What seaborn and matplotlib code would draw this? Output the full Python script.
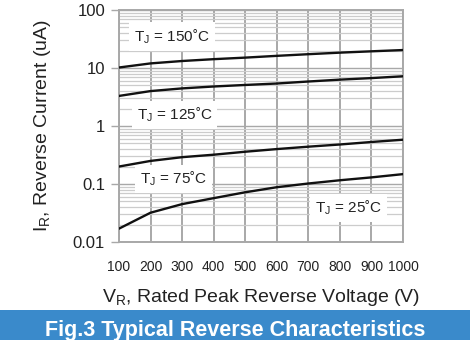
import numpy as np
import pandas as pd
import matplotlib
matplotlib.use("Agg")
import matplotlib.pyplot as plt
import seaborn as sns
from matplotlib.patches import Rectangle
from matplotlib.ticker import FixedLocator, LogLocator, NullFormatter

# ---- data ----
voltage = [100, 200, 300, 400, 500, 600, 700, 800, 900, 1000]
ir_150 = [10.2, 12.0, 13.2, 14.2, 15.1, 16.2, 17.3, 18.4, 19.4, 20.4]
ir_125 = [3.3, 4.0, 4.45, 4.8, 5.1, 5.4, 5.85, 6.3, 6.7, 7.2]
ir_75 = [0.2, 0.25, 0.29, 0.32, 0.36, 0.40, 0.44, 0.48, 0.53, 0.58]
ir_25 = [0.017, 0.032, 0.045, 0.057, 0.072, 0.088, 0.102, 0.116, 0.13, 0.148]
temps = ["150", "125", "75", "25"]
y_ticks = [0.01, 0.1, 1, 10, 100]
y_ticklabels = ["0.01", "0.1", "1", "10", "100"]
x_ticks = voltage

df = pd.concat([
    pd.DataFrame({"V": voltage, "I": vals, "T": t})
    for t, vals in zip(temps, [ir_150, ir_125, ir_75, ir_25])
])

sns.set_theme(style="white")
plt.rcParams["font.family"] = ["Liberation Sans", "DejaVu Sans"]
plt.rcParams["mathtext.fontset"] = "custom"
plt.rcParams["mathtext.rm"] = "Liberation Sans"
plt.rcParams["mathtext.it"] = "Liberation Sans:italic"

fig = plt.figure(figsize=(4.7, 3.4), dpi=100)
ax = fig.add_axes([119/470, 1-242/340, (403-119)/470, (242-10)/340])

grid_c = "#a8a8a8"
minor_c = "#cccccc"

sns.lineplot(data=df, x="V", y="I", hue="T", palette=["#111111"]*4,
             legend=False, ax=ax, linewidth=1.7, zorder=3)
ax.set_yscale("log")
ax.set_xlim(100, 1000)
ax.set_ylim(0.01, 100)

ax.yaxis.set_major_locator(FixedLocator(y_ticks))
ax.set_yticklabels(y_ticklabels)
ax.yaxis.set_minor_locator(LogLocator(base=10, subs=np.arange(2, 10)))
ax.yaxis.set_minor_formatter(NullFormatter())
ax.set_xticks(x_ticks)
ax.set_xticklabels([str(v) for v in x_ticks])

ax.grid(True, which="major", axis="x", color=grid_c, linewidth=1.4, zorder=0)
ax.grid(True, which="major", axis="y", color=grid_c, linewidth=1.0, zorder=0)
ax.grid(True, which="minor", axis="y", color=minor_c, linewidth=0.9, zorder=0)
ax.set_axisbelow(True)

for s in ax.spines.values():
    s.set_color(grid_c)
    s.set_linewidth(1.4)

ax.tick_params(axis="y", which="major", left=True, length=6, width=1.0,
               color=grid_c, labelsize=12, pad=4, labelcolor="#222222")
ax.tick_params(axis="y", which="minor", left=False)
ax.tick_params(axis="x", which="major", bottom=False, labelsize=10, pad=7,
               labelcolor="#222222")

ax.set_xlabel(r"V$_\mathregular{R}$, Rated Peak Reverse Voltage (V)",
              fontsize=14, labelpad=9, color="#222222")
ax.set_ylabel(r"I$_\mathregular{R}$, Reverse Current (uA)",
              fontsize=14, labelpad=14, color="#222222")

box = dict(facecolor="white", edgecolor="none", pad=3.5)
labels = [("150", 268, 35), ("125", 277, 1.55), ("75", 272, 0.122), ("25", 828, 0.0386)]
for t, xv, yv in labels:
    ax.text(xv, yv, r"T$_\mathregular{J}$ = " + t + "\u02daC", fontsize=11,
            ha="center", va="center", bbox=box, zorder=4, color="#222222")

fig.patches.append(Rectangle((0, 0), 1, 30/340, transform=fig.transFigure,
                             facecolor="#3a8acb", edgecolor="none", zorder=0))
fig.text(0.5, 1-336/340, "Fig.3 Typical Reverse Characteristics", ha="center",
         va="baseline", fontsize=15.5, fontweight="bold", color="white")

fig.savefig("out.png", dpi=100)
